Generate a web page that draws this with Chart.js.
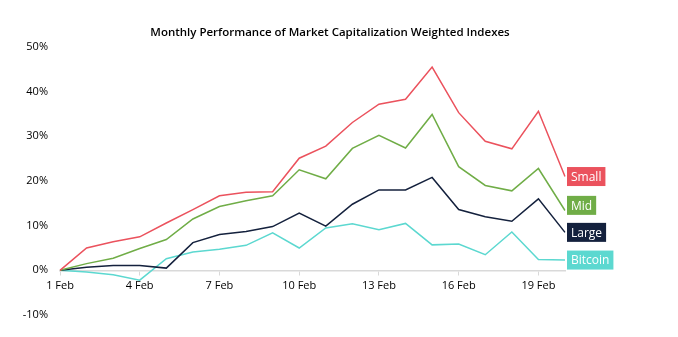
<!DOCTYPE html>
<html>
<head>
<meta charset="utf-8">
<script src="https://cdn.jsdelivr.net/npm/chart.js@4/dist/chart.umd.min.js"></script>
<style>
    html, body { margin: 0; padding: 0; background: #ffffff; }
    #wrap { width: 678px; height: 337px; }
</style>
</head>
<body>
<div id="wrap"><canvas id="perfChart"></canvas></div>
<script>
// Days of February
const days = ['1 Feb', '2 Feb', '3 Feb', '4 Feb', '5 Feb', '6 Feb', '7 Feb', '8 Feb', '9 Feb', '10 Feb',
    '11 Feb', '12 Feb', '13 Feb', '14 Feb', '15 Feb', '16 Feb', '17 Feb', '18 Feb', '19 Feb', '20 Feb'];

// Cumulative performance in %
const smallCap = [0, 5.0, 6.4, 7.5, 10.6, 13.6, 16.7, 17.5, 17.6, 25.1, 27.8, 33.1, 37.2, 38.3, 45.5, 35.3, 28.9, 27.2, 35.6, 21.0];
const midCap = [0, 1.5, 2.7, 4.9, 6.9, 11.5, 14.3, 15.6, 16.7, 22.5, 20.5, 27.3, 30.2, 27.4, 34.9, 23.2, 19.0, 17.8, 22.8, 13.4];
const largeCap = [0, 0.7, 1.1, 1.1, 0.5, 6.2, 8.0, 8.7, 9.8, 12.8, 9.9, 14.8, 18.0, 18.0, 20.8, 13.6, 12.0, 11.0, 16.0, 8.5];
const bitcoin = [0, -0.4, -1.0, -2.2, 2.6, 4.1, 4.7, 5.6, 8.4, 5.0, 9.5, 10.4, 9.1, 10.5, 5.7, 5.9, 3.5, 8.6, 2.4, 2.3];

const seriesNames = ['Small', 'Mid', 'Large', 'Bitcoin'];
const seriesColors = ['#EB525D', '#70AD47', '#14213D', '#5CD8D0'];
const chartTitle = 'Monthly Performance of Market Capitalization Weighted Indexes';

const fontFamily = '"Open Sans", "Noto Sans", sans-serif';

// Title drawn by hand so it can sit off-centre like the original
const titlePlugin = {
    id: 'titlePlugin',
    afterDraw(chart) {
        const ctx = chart.ctx;
        ctx.save();
        ctx.font = '600 11.5px ' + fontFamily;
        ctx.fillStyle = '#000000';
        ctx.textAlign = 'center';
        ctx.textBaseline = 'middle';
        ctx.fillText(chartTitle, 330, 33);
        ctx.restore();
    }
};

// Draws the coloured name boxes at the end of each line
const endLabels = {
    id: 'endLabels',
    afterDatasetsDraw(chart) {
        const ctx = chart.ctx;
        const xScale = chart.scales.x;
        const yScale = chart.scales.y;
        const lastIdx = days.length - 1;
        const x = xScale.getPixelForValue(lastIdx) + 2;
        const boxH = 19;
        const minGap = 27;

        let items = chart.data.datasets.map((ds) => ({
            text: ds.label,
            color: ds.borderColor,
            y: yScale.getPixelForValue(ds.data[lastIdx])
        }));
        // bottom to top, keep labels apart
        items.sort((a, b) => b.y - a.y);
        for (let i = 1; i < items.length; i++) {
            if (items[i - 1].y - items[i].y < minGap) {
                items[i].y = items[i - 1].y - minGap;
            }
        }

        ctx.save();
        ctx.font = '12px ' + fontFamily;
        ctx.textBaseline = 'middle';
        ctx.textAlign = 'left';
        items.forEach((item) => {
            const w = ctx.measureText(item.text).width + 8;
            ctx.fillStyle = item.color;
            ctx.fillRect(x, item.y - boxH / 2, w, boxH);
            ctx.fillStyle = '#ffffff';
            ctx.fillText(item.text, x + 4, item.y + 1);
        });
        ctx.restore();
    }
};

const datasets = [smallCap, midCap, largeCap, bitcoin].map((values, i) => ({
    label: seriesNames[i],
    data: values,
    borderColor: seriesColors[i],
    backgroundColor: seriesColors[i],
    borderWidth: 1.5,
    pointRadius: 0,
    tension: 0,
    fill: false
}));

new Chart(document.getElementById('perfChart'), {
    type: 'line',
    data: { labels: days, datasets: datasets },
    plugins: [endLabels, titlePlugin],
    options: {
        responsive: true,
        maintainAspectRatio: false,
        animation: false,
        layout: { padding: { left: 0, right: 113, top: 47, bottom: 22 } },
        plugins: {
            legend: { display: false },
            tooltip: { enabled: false },
            title: { display: false }
        },
        scales: {
            x: {
                position: { y: 0 },
                offset: false,
                border: { display: true, color: '#d9d9d9', width: 1.5 },
                grid: {
                    drawOnChartArea: false,
                    drawTicks: true,
                    tickLength: 4,
                    color: (c) => (c.index % 3 === 0 ? '#d9d9d9' : 'rgba(0,0,0,0)')
                },
                ticks: {
                    autoSkip: false,
                    maxRotation: 0,
                    color: '#000000',
                    padding: 5,
                    font: { family: fontFamily, size: 11 },
                    callback: function (val, idx) {
                        return idx % 3 === 0 ? days[idx] : '';
                    }
                }
            },
            y: {
                min: -10,
                max: 50,
                border: { display: false },
                grid: { display: false, drawTicks: false },
                afterFit: (scale) => { scale.width = 60; },
                ticks: {
                    stepSize: 10,
                    padding: 12,
                    color: '#000000',
                    font: { family: fontFamily, size: 11 },
                    callback: (v) => v + '%'
                }
            }
        }
    }
});
</script>
</body>
</html>
